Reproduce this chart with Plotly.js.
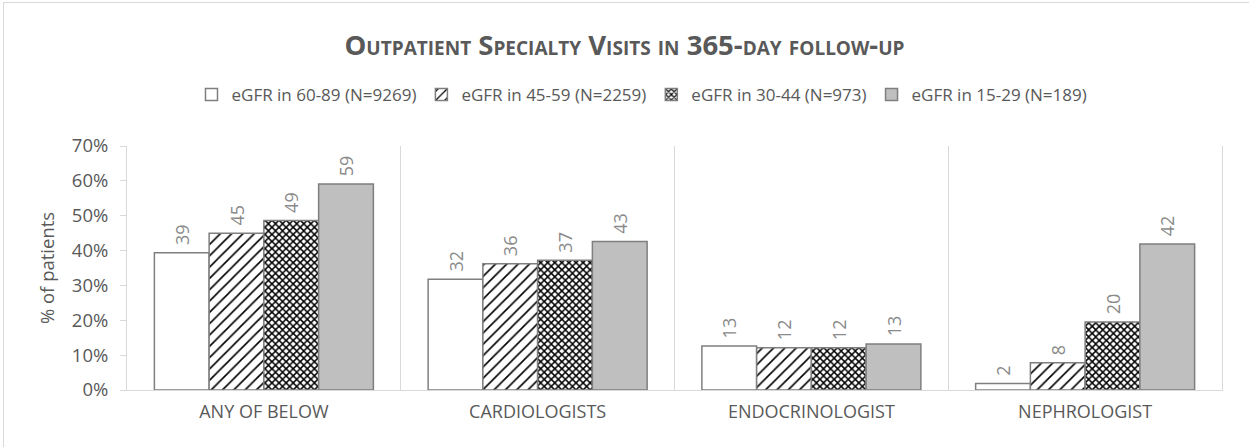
<!DOCTYPE html>
<html>
<head>
<meta charset="utf-8">
<script src="https://cdn.plot.ly/plotly-3.0.1.min.js"></script>
<style>
html,body{margin:0;padding:0;background:#fff;overflow:hidden;}
#chart{position:absolute;left:0;top:0;width:1249px;height:447px;}
#frame{position:absolute;left:3px;top:2px;width:3000px;height:3000px;border-left:1px solid #d9d9d9;border-top:1px solid #d9d9d9;pointer-events:none;}
</style>
</head>
<body>
<div id="chart"></div>
<div id="frame"></div>
<script>
const categories = ["ANY OF BELOW", "CARDIOLOGISTS", "ENDOCRINOLOGIST", "NEPHROLOGIST"];
const seriesNames = ["eGFR in 60-89 (N=9269)", "eGFR in 45-59 (N=2259)", "eGFR in 30-44 (N=973)", "eGFR in 15-29 (N=189)"];
const egfr6089 = [39.4, 31.8, 12.6, 1.9];
const egfr4559 = [45.0, 36.2, 12.1, 7.8];
const egfr3044 = [48.6, 37.2, 12.1, 19.5];
const egfr1529 = [59.1, 42.6, 13.2, 41.9];
const labels6089 = ["39", "32", "13", "2"];
const labels4559 = ["45", "36", "12", "8"];
const labels3044 = ["49", "37", "12", "20"];
const labels1529 = ["59", "43", "13", "42"];
const yTickVals = [0, 10, 20, 30, 40, 50, 60, 70];
const yTickText = ["0%", "10%", "20%", "30%", "40%", "50%", "60%", "70%"];

const FONT = '"Open Sans", "DejaVu Sans", sans-serif';
const lineStyle = {color: '#7f7f7f', width: 1.5};
const labelFont = {family: FONT, size: 18, color: '#8a8a8a'};

function bar(name, y, text, marker) {
  return {
    type: 'bar', name: name, x: categories, y: y, text: text,
    texttemplate: '\u00a0%{text}', textposition: 'outside', textangle: -90,
    textfont: labelFont, constraintext: 'none', cliponaxis: false,
    marker: marker, hoverinfo: 'skip'
  };
}

const data = [
  bar(seriesNames[0], egfr6089, labels6089, {color: '#ffffff', line: lineStyle}),
  bar(seriesNames[1], egfr4559, labels4559, {color: '#ffffff', line: lineStyle,
      pattern: {shape: '/', fgcolor: '#000000', bgcolor: '#ffffff', size: 8, solidity: 0.2}}),
  bar(seriesNames[2], egfr3044, labels3044, {color: '#ffffff', line: lineStyle,
      pattern: {shape: 'x', fgcolor: '#000000', bgcolor: '#ffffff', size: 5, solidity: 0.5}}),
  bar(seriesNames[3], egfr1529, labels1529, {color: '#bfbfbf', line: lineStyle})
];

const layout = {
  width: 1249, height: 447,
  margin: {l: 127, r: 27, t: 146, b: 57, pad: 0},
  paper_bgcolor: 'rgba(0,0,0,0)', plot_bgcolor: 'rgba(0,0,0,0)',
  font: {family: FONT, color: '#595959'},
  barmode: 'group', bargap: 0.2, bargroupgap: 0,
  title: {
    text: '<b>Outpatient Specialty Visits in 365-day follow-up</b>',
    font: {family: FONT, size: 27.5, color: '#595959', variant: 'small-caps'},
    x: 0.5, xref: 'container', xanchor: 'center',
    y: 1 - 45 / 447, yref: 'container', yanchor: 'middle'
  },
  showlegend: true,
  legend: {
    orientation: 'h', xref: 'container', yref: 'container',
    x: 0.514, xanchor: 'center', y: 1 - 95 / 447, yanchor: 'middle',
    font: {family: FONT, size: 17, color: '#595959'},
    itemwidth: 30, traceorder: 'normal', itemclick: false
  },
  xaxis: {
    type: 'category', tickson: 'boundaries', ticks: '',
    showgrid: true, gridcolor: '#d9d9d9', gridwidth: 1,
    showline: true, linecolor: '#d9d9d9', linewidth: 1,
    tickfont: {family: FONT, size: 18, color: '#595959'},
    ticklabelstandoff: 5,
    fixedrange: true
  },
  yaxis: {
    range: [0, 70], tickmode: 'array', tickvals: yTickVals, ticktext: yTickText,
    showgrid: false, zeroline: false,
    showline: true, mirror: true, linecolor: '#d9d9d9', linewidth: 1,
    ticks: 'outside', ticklen: 6, tickcolor: '#d9d9d9',
    tickfont: {family: FONT, size: 18.5, color: '#595959'},
    ticklabelstandoff: 8,
    title: {text: '% of patients', font: {family: FONT, size: 18.5, color: '#595959'}, standoff: 12},
    fixedrange: true
  }
};

Plotly.newPlot('chart', data, layout, {displayModeBar: false, staticPlot: true});
</script>
</body>
</html>
